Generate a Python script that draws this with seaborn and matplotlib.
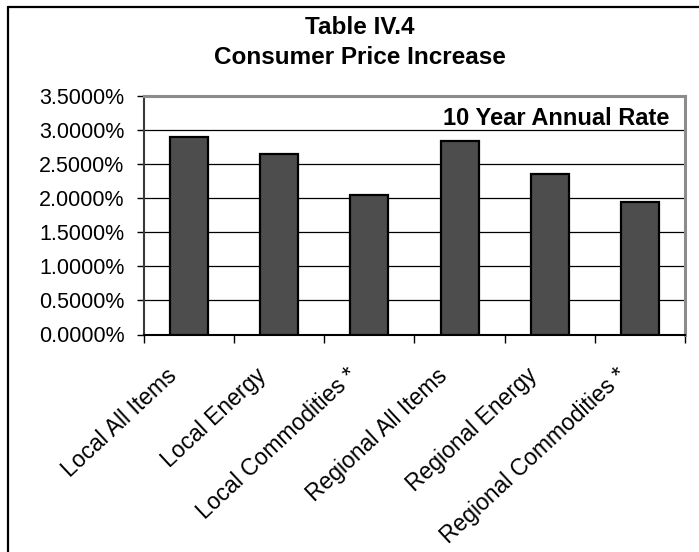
import matplotlib
matplotlib.use("Agg")
import matplotlib.pyplot as plt
import matplotlib.transforms as mtransforms
import seaborn as sns
import pandas as pd
from matplotlib.ticker import FuncFormatter
from matplotlib.lines import Line2D

# Ten-year annual consumer price increase by series
categories = [
    "Local All Items",
    "Local Energy",
    "Local Commodities *",
    "Regional All Items",
    "Regional Energy",
    "Regional Commodities *",
]
rates = [0.0290, 0.0265, 0.0205, 0.0284, 0.0236, 0.0195]
y_ticks = [0.0, 0.005, 0.010, 0.015, 0.020, 0.025, 0.030, 0.035]

sns.set_theme(style="white", rc={
    "text.color": "black",
    "axes.labelcolor": "black",
    "xtick.color": "black",
    "ytick.color": "black",
})
plt.rcParams["font.family"] = ["Liberation Sans", "DejaVu Sans"]

W, H = 699, 552
fig = plt.figure(figsize=(W / 100, H / 100), dpi=100)
fig.patch.set_facecolor("white")

# plot area in pixels: left 144, right 685, top 96, bottom 334.5
ax = fig.add_axes([144 / W, 1 - 334.5 / H, 541 / W, 238.5 / H])

df = pd.DataFrame({"category": categories, "rate": rates})
sns.barplot(data=df, x="category", y="rate", color="#4d4d4d", saturation=1,
            width=0.42, edgecolor="black", linewidth=1.6, ax=ax, zorder=3)

ax.set_xlim(-0.5, len(categories) - 0.5)
ax.set_ylim(y_ticks[0], y_ticks[-1])
ax.set_yticks(y_ticks)
ax.yaxis.set_major_formatter(FuncFormatter(lambda v, _: f"{v * 100:.4f}%"))
ax.tick_params(axis="y", labelsize=15.5, length=5, width=1, direction="out",
               pad=9, left=True)

# category ticks sit on the boundaries between bars
ax.set_xticks([i - 0.5 for i in range(len(categories) + 1)])
ax.set_xticklabels([])
ax.tick_params(axis="x", length=6, width=1, direction="out", bottom=True)
ax.set_xlabel("")
ax.set_ylabel("")

ax.set_axisbelow(True)
ax.yaxis.grid(True, color="black", linewidth=0.9)
ax.xaxis.grid(False)

ax.spines["left"].set_color("#3a3a3a")
ax.spines["left"].set_linewidth(1.5)
ax.spines["bottom"].set_color("black")
ax.spines["bottom"].set_linewidth(1.5)
for side in ("top", "right"):
    ax.spines[side].set_color("#8c8c8c")
    ax.spines[side].set_linewidth(2.2)

# rotated category names, ending just left of each bar's centre
label_tf = ax.get_xaxis_transform() + mtransforms.ScaledTranslation(
    -8 / 100, 0, fig.dpi_scale_trans)
label_top = -(364 - 334.5) / 238.5
for i, name in enumerate(categories):
    ax.text(i, label_top, name, transform=label_tf,
            rotation=43, ha="right", va="top", fontsize=16.5)

ax.text(0.972, 0.904, "10 Year Annual Rate", transform=ax.transAxes,
        ha="right", va="center", fontsize=17, fontweight="bold")

fig.text(360 / W, 1 - 27 / H, "Table IV.4", ha="center", va="center",
         fontsize=17.5, fontweight="bold")
fig.text(360 / W, 1 - 58 / H, "Consumer Price Increase", ha="center",
         va="center", fontsize=17.5, fontweight="bold")

# chart frame (left and top edges)
fig.add_artist(Line2D([8 / W, 8 / W], [0, 1 - 7 / H], transform=fig.transFigure,
                      color="black", linewidth=1.6))
fig.add_artist(Line2D([8 / W, 1], [1 - 7 / H, 1 - 7 / H], transform=fig.transFigure,
                      color="black", linewidth=1.6))

fig.savefig("out.png", dpi=100, facecolor="white")
